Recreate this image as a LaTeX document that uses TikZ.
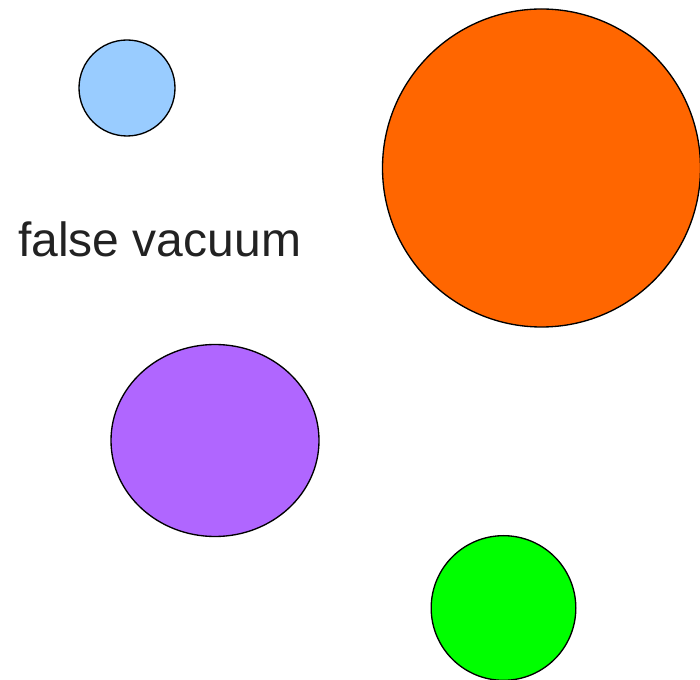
\documentclass[tikz,border=0pt]{standalone}
\usepackage{fontspec}
\setmainfont{Liberation Sans}
\usetikzlibrary{shapes.geometric}

\definecolor{bubbleblue}{HTML}{99CCFF}
\definecolor{bubbleorange}{HTML}{FF6600}
\definecolor{bubblepurple}{HTML}{B066FF}
\definecolor{bubblegreen}{HTML}{00FF00}
\definecolor{labelgray}{HTML}{222222}

\begin{document}
\begin{tikzpicture}[x=0.75pt, y=-0.75pt,
    bubble/.style={draw=black, line width=1pt, inner sep=0pt}]

    \useasboundingbox (0,0) rectangle (700,680);

    % ============================================================
    % BUBBLES
    % ============================================================
    \node[bubble, circle, fill=bubbleblue, minimum size=72pt]
        (small) at (127,88) {};
    \node[bubble, circle, fill=bubbleorange, minimum size=238.5pt]
        (big) at (541.5,168) {};
    \node[bubble, ellipse, fill=bubblepurple,
          minimum width=156pt, minimum height=144pt]
        (oval) at (215,440.5) {};
    \node[bubble, circle, fill=bubblegreen, minimum size=108.5pt]
        (lower) at (503.5,608) {};

    % ============================================================
    % LABEL
    % ============================================================
    \node[anchor=base west, inner sep=0pt, text=labelgray,
          font=\fontsize{36pt}{40pt}\selectfont]
        (vacuum) at (18,257) {false vacuum};

\end{tikzpicture}
\end{document}
